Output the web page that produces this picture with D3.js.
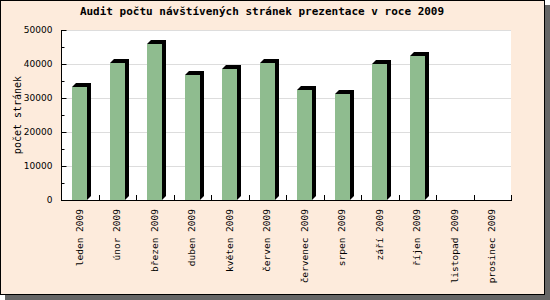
<!DOCTYPE html>
<html>
<head>
<meta charset="utf-8">
<script src="https://cdn.jsdelivr.net/npm/d3@7"></script>
<style>
  body { margin: 0; }
  svg { display: block; }
</style>
</head>
<body>
<div id="chart"></div>
<script>
// page visits per month, 2009
var months = ["leden 2009", "únor 2009", "březen 2009", "duben 2009", "květen 2009", "červen 2009",
              "červenec 2009", "srpen 2009", "září 2009", "říjen 2009", "listopad 2009", "prosinec 2009"];
var visits = [33300, 40200, 45800, 36800, 38500, 40300, 32400, 31300, 39900, 42300, 0, 0];
var yTicks = [0, 10000, 20000, 30000, 40000, 50000];
var yMinorTicks = [5000, 15000, 25000, 35000, 45000];

var title = "Audit počtu návštívených stránek prezentace v roce 2009";
var yTitle = "počet stránek";

var width = 550, height = 300;
var plot = {left: 61, right: 511, top: 30, bottom: 200};
var depth = 4;

var svg = d3.select("#chart").append("svg")
    .attr("width", width)
    .attr("height", height);

// frame + shadow
svg.append("rect").attr("x", 5).attr("y", 5).attr("width", 545).attr("height", 295).style("fill", "#666");
svg.append("rect").attr("x", 0.5).attr("y", 0.5).attr("width", 544).attr("height", 294)
    .style("fill", "#fdebdc").style("stroke", "#000");

svg.append("text")
    .attr("x", 262).attr("y", 15)
    .attr("text-anchor", "middle")
    .style("font-family", "'DejaVu Sans Mono', monospace")
    .style("font-weight", "bold")
    .style("font-size", "11px")
    .text(title);

var x = d3.scaleBand().domain(months).range([plot.left, plot.right]);
var y = d3.scaleLinear().domain([0, 50000]).range([plot.bottom, plot.top]);

svg.append("rect")
    .attr("x", plot.left).attr("y", plot.top)
    .attr("width", plot.right - plot.left).attr("height", plot.bottom - plot.top)
    .style("fill", "#fff");

// grid
svg.append("g").selectAll("line")
    .data(yTicks.slice(1))
    .enter().append("line")
    .attr("x1", plot.left).attr("x2", plot.right)
    .attr("y1", function(d) { return Math.round(y(d)) + 0.5; })
    .attr("y2", function(d) { return Math.round(y(d)) + 0.5; })
    .style("stroke", "#ddd");

// bars
var barW = 15;
var bars = svg.append("g").selectAll("g")
    .data(visits.map(function(v, i) { return {m: months[i], v: v}; }).filter(function(d) { return d.v > 0; }))
    .enter().append("g");

bars.append("polygon")
    .attr("points", function(d) {
        var x0 = Math.round(x(d.m) + x.bandwidth() / 2 - barW / 2), x1 = x0 + barW;
        var yt = Math.round(y(d.v)), yb = y(0);
        return [[x0, yt], [x0 + depth, yt - depth], [x1 + depth, yt - depth],
                [x1 + depth, yb - depth], [x1, yb], [x1, yt]].join(" ");
    })
    .style("fill", "#000");

bars.append("rect")
    .attr("x", function(d) { return Math.round(x(d.m) + x.bandwidth() / 2 - barW / 2); })
    .attr("y", function(d) { return Math.round(y(d.v)); })
    .attr("width", barW)
    .attr("height", function(d) { return y(0) - Math.round(y(d.v)); })
    .style("fill", "#8fbc8f");

// y axis
var yAxis = svg.append("g")
    .attr("transform", "translate(" + (plot.left + 0.5) + ",0)")
    .call(d3.axisLeft(y).tickValues(yTicks).tickSize(-5).tickPadding(9).tickFormat(d3.format("d")));
yAxis.select(".domain").attr("d", "M0," + plot.top + "V" + plot.bottom);
yAxis.selectAll("text")
    .style("font-family", "'DejaVu Sans', sans-serif")
    .style("font-size", "9px")
    .style("fill", "#000");

svg.append("g")
    .attr("transform", "translate(" + (plot.left + 0.5) + ",0)")
    .call(d3.axisLeft(y).tickValues(yMinorTicks).tickSize(-3).tickFormat(""))
    .select(".domain").remove();

// x axis
svg.append("line")
    .attr("x1", plot.left).attr("x2", plot.right + 1)
    .attr("y1", plot.bottom + 0.5).attr("y2", plot.bottom + 0.5)
    .style("stroke", "#000");

svg.append("g").selectAll("line")
    .data(months.slice(1).map(function(m) { return x(m); }).concat([plot.right]))
    .enter().append("line")
    .attr("x1", function(d) { return Math.round(d) + 0.5; })
    .attr("x2", function(d) { return Math.round(d) + 0.5; })
    .attr("y1", plot.bottom).attr("y2", plot.bottom - 5)
    .style("stroke", "#000");

svg.append("g").selectAll("text")
    .data(months)
    .enter().append("text")
    .attr("transform", function(d) { return "translate(" + (x(d) + x.bandwidth() / 2 + 3) + "," + 209 + ") rotate(-90)"; })
    .attr("text-anchor", "end")
    .style("font-family", "'DejaVu Sans Mono', monospace")
    .style("font-size", "9.5px")
    .text(function(d) { return d; });

svg.append("text")
    .attr("transform", "translate(21,115) rotate(-90)")
    .attr("text-anchor", "middle")
    .style("font-family", "'DejaVu Sans Mono', monospace")
    .style("font-size", "10px")
    .text(yTitle);
</script>
</body>
</html>
